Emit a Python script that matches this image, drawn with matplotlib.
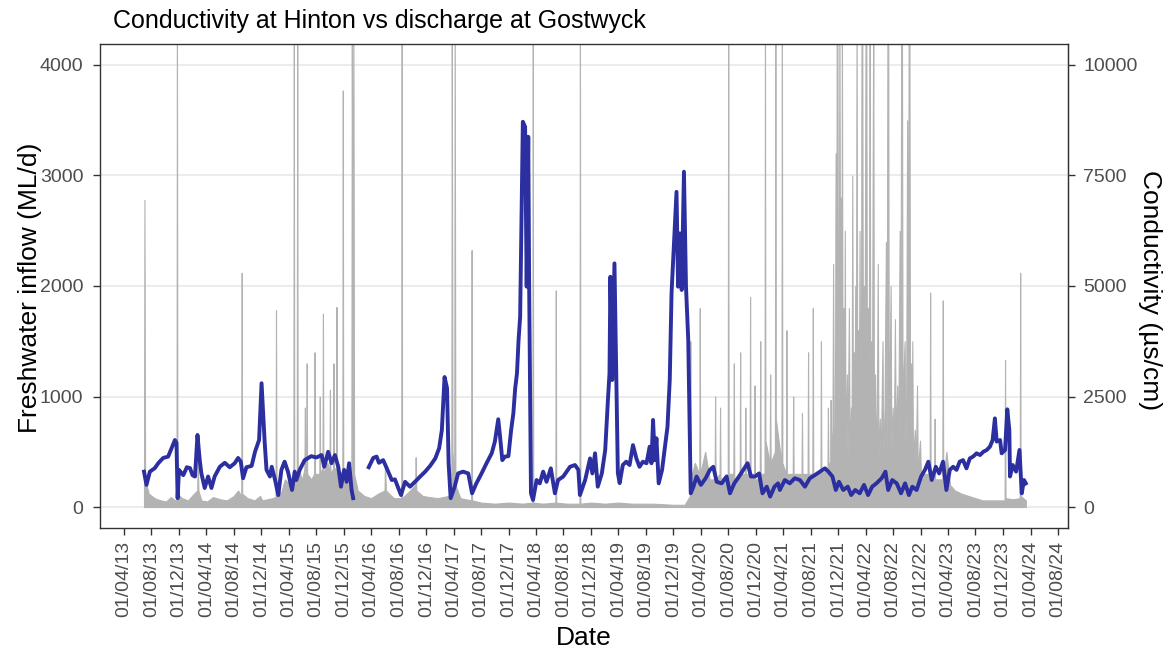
import numpy as np
import pandas as pd
import matplotlib
matplotlib.use("Agg")
import matplotlib.pyplot as plt
import matplotlib.dates as mdates

plt.rcParams['font.family'] = ['Liberation Sans', 'DejaVu Sans']

# discharge at Gostwyck (ML/d), peaks and troughs of the daily record
flow_dates = [
    "2013-06-29", "2013-07-01", "2013-07-04", "2013-07-20", "2013-08-15", "2013-09-10",
    "2013-10-05", "2013-10-25", "2013-11-15", "2013-11-20", "2013-11-22", "2013-11-24",
    "2013-12-15", "2014-01-10", "2014-02-05", "2014-02-20", "2014-02-22", "2014-02-25",
    "2014-03-10", "2014-04-05", "2014-05-01", "2014-06-01", "2014-07-01", "2014-08-01",
    "2014-08-20", "2014-09-03", "2014-09-05", "2014-09-07", "2014-10-01", "2014-11-01",
    "2014-11-25", "2014-12-05", "2015-01-20", "2015-02-02", "2015-02-04", "2015-02-06",
    "2015-02-25", "2015-03-15", "2015-04-10", "2015-04-22", "2015-04-24", "2015-04-26",
    "2015-05-07", "2015-05-09", "2015-05-11", "2015-06-01", "2015-06-10", "2015-06-12",
    "2015-06-14", "2015-06-18", "2015-06-20", "2015-06-22", "2015-07-10", "2015-07-23",
    "2015-07-25", "2015-07-27", "2015-08-15", "2015-08-17", "2015-08-19", "2015-08-29",
    "2015-08-31", "2015-09-02", "2015-09-20", "2015-09-29", "2015-10-01", "2015-10-03",
    "2015-10-15", "2015-10-17", "2015-10-19", "2015-10-28", "2015-10-30", "2015-11-01",
    "2015-11-25", "2015-11-27", "2015-11-29", "2015-12-20", "2016-01-04", "2016-01-06",
    "2016-01-09", "2016-01-13", "2016-01-16", "2016-02-01", "2016-03-01", "2016-04-01",
    "2016-05-01", "2016-05-30", "2016-06-01", "2016-06-05", "2016-07-10", "2016-08-12",
    "2016-08-14", "2016-08-16", "2016-09-20", "2016-10-13", "2016-10-15", "2016-10-18",
    "2016-11-15", "2016-12-15", "2017-01-20", "2017-03-10", "2017-03-22", "2017-03-24",
    "2017-03-27", "2017-04-04", "2017-04-06", "2017-04-09", "2017-05-01", "2017-06-18",
    "2017-06-20", "2017-06-22", "2017-08-01", "2017-10-01", "2017-12-01", "2018-02-01",
    "2018-03-16", "2018-03-18", "2018-03-20", "2018-05-01", "2018-06-26", "2018-06-28",
    "2018-06-30", "2018-08-15", "2018-10-11", "2018-10-13", "2018-10-15", "2018-12-01",
    "2019-02-01", "2019-04-01", "2019-06-01", "2019-09-01", "2019-12-01", "2020-01-20",
    "2020-02-12", "2020-02-14", "2020-02-16", "2020-03-05", "2020-03-25", "2020-03-27",
    "2020-03-29", "2020-04-20", "2020-05-10", "2020-06-01", "2020-06-03", "2020-06-05",
    "2020-06-23", "2020-06-25", "2020-06-27", "2020-07-29", "2020-07-31", "2020-08-02",
    "2020-08-23", "2020-08-25", "2020-08-27", "2020-09-20", "2020-09-22", "2020-09-24",
    "2020-10-13", "2020-10-15", "2020-10-17", "2020-11-03", "2020-11-05", "2020-11-07",
    "2020-11-23", "2020-11-25", "2020-11-27", "2020-12-05", "2020-12-18", "2020-12-20",
    "2020-12-22", "2021-01-08", "2021-01-10", "2021-01-12", "2021-01-31", "2021-02-02",
    "2021-02-04", "2021-02-23", "2021-02-25", "2021-02-27", "2021-03-24", "2021-03-26",
    "2021-03-28", "2021-04-13", "2021-04-15", "2021-04-17", "2021-05-13", "2021-05-15",
    "2021-05-17", "2021-06-21", "2021-06-23", "2021-06-25", "2021-07-18", "2021-07-20",
    "2021-07-22", "2021-08-08", "2021-08-10", "2021-08-12", "2021-09-13", "2021-09-15",
    "2021-09-17", "2021-10-14", "2021-10-16", "2021-10-18", "2021-10-26", "2021-10-28",
    "2021-10-30", "2021-11-05", "2021-11-08", "2021-11-11", "2021-11-16", "2021-11-19",
    "2021-11-22", "2021-11-24", "2021-11-27", "2021-11-30", "2021-12-03", "2021-12-06",
    "2021-12-09", "2021-12-12", "2021-12-15", "2021-12-17", "2021-12-20", "2021-12-24",
    "2021-12-27", "2021-12-30", "2022-01-02", "2022-01-08", "2022-01-11", "2022-01-17",
    "2022-01-20", "2022-01-26", "2022-01-29", "2022-02-01", "2022-02-04", "2022-02-08",
    "2022-02-11", "2022-02-14", "2022-02-17", "2022-02-20", "2022-02-23", "2022-02-27",
    "2022-03-02", "2022-03-05", "2022-03-08", "2022-03-12", "2022-03-14", "2022-03-17",
    "2022-03-20", "2022-03-24", "2022-03-27", "2022-03-30", "2022-04-01", "2022-04-04",
    "2022-04-07", "2022-04-11", "2022-04-14", "2022-04-17", "2022-04-19", "2022-04-22",
    "2022-04-26", "2022-04-29", "2022-05-02", "2022-05-05", "2022-05-08", "2022-05-13",
    "2022-05-17", "2022-05-21", "2022-05-25", "2022-05-28", "2022-06-03", "2022-06-07",
    "2022-06-15", "2022-06-18", "2022-06-24", "2022-06-30", "2022-07-03", "2022-07-07",
    "2022-07-10", "2022-07-13", "2022-07-17", "2022-07-21", "2022-07-24", "2022-07-30",
    "2022-08-04", "2022-08-09", "2022-08-13", "2022-08-19", "2022-08-23", "2022-08-30",
    "2022-09-02", "2022-09-06", "2022-09-09", "2022-09-12", "2022-09-16", "2022-09-21",
    "2022-09-24", "2022-09-28", "2022-10-02", "2022-10-05", "2022-10-09", "2022-10-12",
    "2022-10-15", "2022-10-19", "2022-10-22", "2022-10-25", "2022-10-28", "2022-11-05",
    "2022-11-09", "2022-11-15", "2022-11-18", "2022-11-28", "2022-12-02", "2022-12-15",
    "2023-01-10", "2023-01-12", "2023-01-14", "2023-01-30", "2023-02-01", "2023-02-03",
    "2023-03-07", "2023-03-09", "2023-03-11", "2023-03-25", "2023-04-10", "2023-05-01",
    "2023-06-01", "2023-07-01", "2023-08-01", "2023-09-01", "2023-10-01", "2023-12-08",
    "2023-12-10", "2023-12-12", "2024-01-15", "2024-02-13", "2024-02-15", "2024-02-17",
    "2024-03-11",
]
flow_mld = [
    250, 2780, 250, 120, 80, 60,
    50, 90, 60, 60, 4500, 120,
    80, 60, 120, 150, 500, 150,
    60, 50, 90, 70, 60, 100,
    150, 100, 2120, 120, 80, 60,
    100, 60, 80, 90, 1780, 200,
    120, 250, 200, 250, 4500, 300,
    300, 4500, 350, 250, 350, 900,
    300, 300, 1300, 300, 250, 300,
    1400, 300, 300, 1000, 300, 350,
    1750, 300, 400, 300, 1060, 300,
    350, 1300, 350, 350, 1810, 350,
    300, 3770, 300, 250, 300, 4500,
    1500, 4500, 300, 150, 100, 80,
    120, 150, 400, 150, 80, 80,
    4500, 80, 150, 200, 450, 150,
    100, 90, 80, 100, 150, 4500,
    500, 300, 4500, 200, 80, 60,
    2325, 60, 40, 30, 40, 30,
    40, 4500, 40, 30, 40, 1960,
    40, 30, 30, 4500, 30, 40,
    30, 40, 30, 30, 20, 20,
    100, 1500, 250, 400, 300, 1800,
    300, 500, 250, 250, 1000, 250,
    300, 900, 250, 300, 4500, 300,
    300, 1300, 250, 300, 1400, 300,
    300, 900, 300, 300, 1900, 300,
    300, 1100, 250, 250, 300, 1500,
    300, 300, 4500, 600, 400, 1200,
    400, 500, 4500, 800, 400, 4500,
    400, 300, 1600, 300, 300, 1000,
    300, 300, 850, 300, 300, 1400,
    300, 300, 1800, 300, 300, 1500,
    300, 350, 900, 400, 400, 970,
    500, 700, 2200, 600, 700, 3200,
    800, 4500, 4500, 900, 1200, 4500,
    1500, 2800, 900, 4500, 700, 1800,
    600, 2500, 500, 1200, 400, 1800,
    500, 900, 600, 3000, 600, 1400,
    600, 2000, 700, 4500, 800, 1600,
    700, 2500, 800, 1800, 4500, 4500,
    1200, 2000, 800, 3000, 4500, 4500,
    900, 1800, 700, 2500, 4500, 600,
    1500, 600, 2800, 4500, 500, 1200,
    400, 900, 2200, 400, 800, 400,
    1500, 400, 900, 2400, 400, 4500,
    4500, 600, 1300, 2000, 500, 900,
    500, 1700, 500, 1100, 450, 2500,
    400, 4500, 4500, 700, 1200, 1500,
    500, 1000, 3500, 500, 4500, 4500,
    800, 1300, 500, 1500, 400, 700,
    300, 1100, 300, 600, 300, 300,
    300, 1940, 300, 300, 800, 250,
    250, 1870, 250, 500, 200, 150,
    120, 100, 80, 60, 60, 60,
    1330, 80, 70, 80, 2120, 100,
    60,
]

# conductivity at Hinton (uS/cm); NaN marks the break in the logger record
cond_dates = [
    "2013-06-29", "2013-07-10", "2013-07-25", "2013-08-16", "2013-08-31", "2013-09-22",
    "2013-10-14", "2013-10-29", "2013-11-13", "2013-11-20", "2013-11-25", "2013-12-01",
    "2013-12-20", "2014-01-05", "2014-01-19", "2014-01-30", "2014-02-10", "2014-02-21",
    "2014-03-03", "2014-03-10", "2014-03-25", "2014-04-09", "2014-04-24", "2014-05-08",
    "2014-05-31", "2014-06-22", "2014-07-14", "2014-08-05", "2014-08-20", "2014-09-01",
    "2014-09-11", "2014-09-26", "2014-10-19", "2014-11-03", "2014-11-21", "2014-12-02",
    "2014-12-09", "2014-12-16", "2014-12-24", "2015-01-08", "2015-01-16", "2015-01-31",
    "2015-02-14", "2015-02-28", "2015-03-14", "2015-03-29", "2015-04-16", "2015-04-28",
    "2015-05-05", "2015-05-20", "2015-06-11", "2015-07-10", "2015-08-02", "2015-08-25",
    "2015-09-06", "2015-09-23", "2015-10-08", "2015-10-23", "2015-11-07", "2015-11-19",
    "2015-12-03", "2015-12-14", "2015-12-25", "2016-01-05", "2016-01-12", "2016-02-15",
    "2016-03-21", "2016-04-10", "2016-04-25", "2016-05-05", "2016-05-24", "2016-06-09",
    "2016-07-01", "2016-07-15", "2016-08-11", "2016-08-29", "2016-09-20", "2016-10-12",
    "2016-11-04", "2016-11-26", "2016-12-18", "2017-01-10", "2017-01-27", "2017-02-08",
    "2017-02-20", "2017-03-03", "2017-03-10", "2017-03-19", "2017-04-06", "2017-04-21",
    "2017-05-13", "2017-06-05", "2017-06-22", "2017-07-11", "2017-08-03", "2017-08-25",
    "2017-09-17", "2017-10-01", "2017-10-16", "2017-10-24", "2017-11-03", "2017-11-15",
    "2017-11-30", "2017-12-12", "2017-12-22", "2017-12-30", "2018-01-07", "2018-01-14",
    "2018-01-21", "2018-02-02", "2018-02-12", "2018-02-19", "2018-02-26", "2018-03-02",
    "2018-03-10", "2018-03-19", "2018-04-04", "2018-04-18", "2018-05-03", "2018-05-18",
    "2018-06-06", "2018-06-24", "2018-07-08", "2018-07-31", "2018-08-30", "2018-09-21",
    "2018-10-06", "2018-10-13", "2018-11-05", "2018-11-27", "2018-12-07", "2018-12-19",
    "2018-12-31", "2019-01-18", "2019-02-02", "2019-02-14", "2019-02-21", "2019-02-25",
    "2019-03-05", "2019-03-15", "2019-03-23", "2019-03-30", "2019-04-07", "2019-04-21",
    "2019-05-06", "2019-05-21", "2019-06-05", "2019-06-20", "2019-07-04", "2019-07-19",
    "2019-08-04", "2019-08-18", "2019-08-26", "2019-09-02", "2019-09-10", "2019-09-17",
    "2019-09-27", "2019-10-12", "2019-10-27", "2019-11-05", "2019-11-15", "2019-11-23",
    "2019-12-15", "2019-12-22", "2019-12-30", "2020-01-07", "2020-01-17", "2020-01-26",
    "2020-02-05", "2020-02-16", "2020-02-28", "2020-03-13", "2020-04-01", "2020-04-22",
    "2020-05-11", "2020-05-26", "2020-06-10", "2020-07-02", "2020-07-24", "2020-08-08",
    "2020-08-27", "2020-09-17", "2020-10-06", "2020-10-25", "2020-11-09", "2020-11-27",
    "2020-12-15", "2020-12-30", "2021-01-18", "2021-02-02", "2021-02-21", "2021-03-09",
    "2021-03-17", "2021-04-08", "2021-04-30", "2021-05-22", "2021-06-14", "2021-07-06",
    "2021-07-28", "2021-08-20", "2021-09-11", "2021-10-03", "2021-10-18", "2021-11-05",
    "2021-11-20", "2021-12-04", "2021-12-23", "2022-01-12", "2022-01-27", "2022-02-14",
    "2022-03-06", "2022-03-25", "2022-04-12", "2022-04-30", "2022-05-19", "2022-06-11",
    "2022-06-28", "2022-07-10", "2022-07-28", "2022-08-17", "2022-09-05", "2022-09-23",
    "2022-10-10", "2022-10-25", "2022-11-13", "2022-12-03", "2022-12-20", "2023-01-04",
    "2023-01-19", "2023-02-06", "2023-02-21", "2023-03-10", "2023-03-25", "2023-04-09",
    "2023-04-24", "2023-05-09", "2023-05-23", "2023-06-07", "2023-06-22", "2023-07-07",
    "2023-07-21", "2023-08-06", "2023-08-21", "2023-09-05", "2023-09-20", "2023-10-04",
    "2023-10-16", "2023-10-26", "2023-11-03", "2023-11-18", "2023-11-25", "2023-12-10",
    "2023-12-20", "2023-12-29", "2024-01-01", "2024-01-13", "2024-01-28", "2024-02-12",
    "2024-02-22", "2024-03-03", "2024-03-11",
]
cond_us = [
    800, 500, 800, 880, 990, 1110,
    1140, 1330, 1515, 1450, 200, 840,
    720, 900, 880, 720, 690, 1630,
    1060, 770, 430, 690, 430, 690,
    910, 1000, 900, 990, 1110, 1025,
    650, 900, 930, 1250, 1515, 2800,
    2125, 1450, 840, 690, 910, 610,
    270, 840, 1025, 800, 385, 800,
    610, 840, 1060, 1150, 1120, 1175,
    910, 1250, 990, 1175, 910, 460,
    840, 570, 990, 385, 200, np.nan,
    900, 1110, 1140, 1000, 1060, 875,
    610, 625, 270, 570, 460, 570,
    690, 800, 930, 1100, 1330, 1740,
    2940, 2690, 990, 200, 460, 760,
    800, 760, 310, 535, 760, 990,
    1215, 1480, 1985, 1590, 1060, 1140,
    1150, 1740, 2120, 2685, 3025, 3780,
    4305, 8716, 8600, 4985, 8376, 4985,
    310, 160, 610, 535, 800, 570,
    875, 310, 610, 690, 910, 950,
    840, 270, 610, 1100, 760, 1215,
    460, 760, 1290, 2420, 3025, 5210,
    2873, 5512, 3030, 770, 540, 950,
    1025, 950, 1400, 1100, 910, 1025,
    990, 1365, 990, 1970, 1060, 1555,
    535, 840, 1440, 1815, 2873, 4840,
    7130, 4985, 6190, 4910, 7585, 4985,
    3780, 310, 460, 690, 500, 650,
    840, 910, 570, 535, 690, 310,
    535, 690, 840, 990, 690, 690,
    760, 310, 460, 235, 460, 535,
    385, 610, 535, 650, 610, 460,
    650, 725, 800, 875, 800, 690,
    385, 570, 385, 460, 270, 385,
    310, 500, 270, 460, 535, 650,
    800, 385, 610, 535, 310, 535,
    270, 460, 385, 690, 840, 1025,
    610, 910, 760, 1025, 385, 840,
    910, 840, 1025, 1060, 875, 1100,
    1140, 1215, 1175, 1250, 1290, 1365,
    1515, 2005, 1480, 1515, 1215, 1290,
    2210, 1740, 690, 950, 800, 1290,
    310, 610, 535,
]

tick_dates = pd.date_range("2013-04-01", "2024-08-01", freq="4MS")

scale = 2.5  # uS/cm per ML/d on the shared panel

flow_t = pd.to_datetime(flow_dates)
cond_t = pd.to_datetime(cond_dates)
cond = np.array(cond_us, dtype=float)

fig = plt.figure(figsize=(11.67, 6.52), dpi=100)
ax = fig.add_axes([100 / 1167, 1 - 528 / 652, 968 / 1167, 484 / 652])

ax.fill_between(flow_t, flow_mld, color="#b3b3b3", edgecolor="#b3b3b3", linewidth=0.8, zorder=2)
ax.plot(cond_t, cond / scale, color="#2b2f9f", linewidth=2.8, solid_joinstyle="round", zorder=3)

ax.set_xlim(pd.Timestamp("2012-12-16"), pd.Timestamp("2024-09-14"))
ax.set_ylim(-190, 4190)
ax.set_yticks([0, 1000, 2000, 3000, 4000])
ax.set_xticks(tick_dates)
ax.xaxis.set_major_formatter(mdates.DateFormatter("%d/%m/%y"))
ax.yaxis.grid(True, color="#ebebeb", linewidth=1.3, zorder=0)
ax.set_axisbelow(True)

sec = ax.secondary_yaxis("right", functions=(lambda v: v * scale, lambda v: v / scale))
sec.set_yticks([0, 2500, 5000, 7500, 10000])

for a in (ax, sec):
    a.tick_params(colors="#333333", labelcolor="#4d4d4d", labelsize=14, length=5, width=1)
ax.tick_params(axis="y", pad=7)
sec.tick_params(axis="y", pad=6)
ax.tick_params(axis="x", labelrotation=90, pad=4.5)
for s in ax.spines.values():
    s.set_color("#333333")
    s.set_linewidth(1.0)
sec.spines["right"].set_color("#333333")

fig.text(113 / 1167, 1 - 21 / 652, "Conductivity at Hinton vs discharge at Gostwyck",
         fontsize=18, ha="left", va="center")
fig.text(30 / 1167, 1 - 288 / 652, "Freshwater inflow (ML/d)", fontsize=19,
         rotation=90, ha="center", va="center")
fig.text(1150 / 1167, 1 - 290 / 652, "Conductivity (µs/cm)", fontsize=19,
         rotation=270, ha="center", va="center")
fig.text(584 / 1167, 1 - 638 / 652, "Date", fontsize=19, ha="center", va="center")

fig.savefig("out.png", dpi=100)
